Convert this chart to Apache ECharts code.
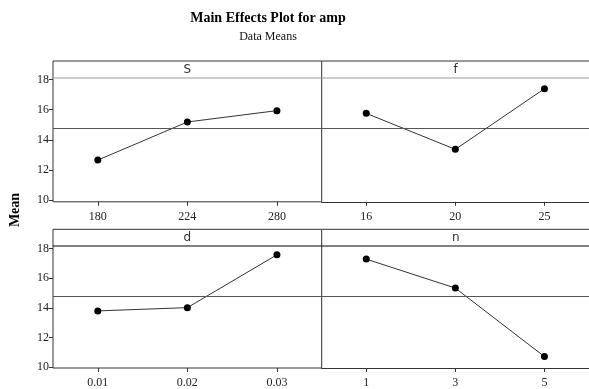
<!DOCTYPE html>
<html><head><meta charset="utf-8">
<script src="https://cdn.jsdelivr.net/npm/echarts@6/dist/echarts.min.js"></script>
<style>html,body{margin:0;padding:0;background:#fff}#c{width:589px;height:389px}</style>
</head><body><div id="c"></div>
<script>
const factorNames = ['S', 'f', 'd', 'n'];
const catsS = ['180', '224', '280'];
const valsS = [12.66, 15.18, 15.93];
const catsF = ['16', '20', '25'];
const valsF = [15.75, 13.37, 17.38];
const catsD = ['0.01', '0.02', '0.03'];
const valsD = [13.79, 14.01, 17.58];
const catsN = ['1', '3', '5'];
const valsN = [17.29, 15.33, 10.70];
const yTicks = [10, 12, 14, 16, 18];
const grandMean = 14.75;

const cats = [catsS, catsF, catsD, catsN];
const vals = [valsS, valsF, valsD, valsN];

const serif = '"Liberation Serif", "Times New Roman", serif';
const sans = '"DejaVu Sans", Tahoma, sans-serif';

// layout
const colX = [53, 321.7];
const colW = [268.7, 268];
const rows = [
  { hTop: 61, top: 78, bottom: 201.8, min: 9.9, max: 18.09, hdrLine: '#9a9a9a' },
  { hTop: 229.3, top: 246, bottom: 371, min: 9.93, max: 18.2, hdrLine: '#000' }
];

const grids = [], xAxes = [], yAxes = [], series = [], graphics = [];
for (let i = 0; i < 4; i++) {
  const r = rows[Math.floor(i / 2)], c = i % 2;
  // extend the value range upward so the header strip sits inside the frame
  const perPx = (r.max - r.min) / (r.bottom - r.top);
  const axisMax = r.min + (r.bottom - r.hTop) * perPx;
  grids.push({ left: colX[c], top: r.hTop, width: colW[c], height: r.bottom - r.hTop,
    show: c === 0, borderColor: '#333', borderWidth: 1, backgroundColor: 'transparent' });
  xAxes.push({ type: 'category', gridIndex: i, data: cats[i], boundaryGap: true,
    axisLine: { show: c === 1, lineStyle: { color: '#333', width: 1 } },
    axisTick: { show: true, alignWithLabel: true, length: 4, lineStyle: { color: '#333' } },
    axisLabel: { margin: 9, fontFamily: serif, fontSize: 12, color: '#222' },
    splitLine: { show: false } });
  yAxes.push({ type: 'value', gridIndex: i, min: r.min, max: axisMax,
    show: c === 0,
    axisLine: { show: false },
    axisTick: { show: true, length: 4, customValues: yTicks, lineStyle: { color: '#333' } },
    axisLabel: { margin: 4, customValues: yTicks, fontFamily: serif, fontSize: 12, color: '#222' },
    splitLine: { show: false } });
  series.push({ type: 'line', xAxisIndex: i, yAxisIndex: i, data: vals[i],
    symbol: 'circle', symbolSize: 7,
    itemStyle: { color: '#000' },
    lineStyle: { color: '#333', width: 1 },
    animation: false, silent: true,
    markLine: { silent: true, symbol: 'none', label: { show: false },
      lineStyle: { color: '#555', width: 1, type: 'solid' },
      data: [{ yAxis: grandMean }], animation: false } });
  if (c === 1) {
    // open-ended right panel: top edge only (left edge shared with left panel)
    graphics.push({ type: 'line', shape: { x1: colX[c], y1: r.hTop, x2: 589, y2: r.hTop },
      style: { stroke: '#333', lineWidth: 1 }, z: 11 });
  }
  graphics.push({ type: 'line', shape: { x1: colX[c], y1: r.top, x2: colX[c] + colW[c], y2: r.top },
    style: { stroke: r.hdrLine, lineWidth: 1 }, z: 11 });
  graphics.push({ type: 'text', x: colX[c] + colW[c] / 2, y: (r.hTop + r.top) / 2,
    style: { text: factorNames[i], font: '12px ' + sans, fill: '#333', textAlign: 'center', textVerticalAlign: 'middle' }, z: 12 });
}

graphics.push({ type: 'text', x: 268, y: 18,
  style: { text: 'Main Effects Plot for amp', font: 'bold 14px ' + serif, fill: '#000', textAlign: 'center', textVerticalAlign: 'middle' } });
graphics.push({ type: 'text', x: 268, y: 37,
  style: { text: 'Data Means', font: '12px ' + serif, fill: '#111', textAlign: 'center', textVerticalAlign: 'middle' } });
graphics.push({ type: 'text', x: 15, y: 210, rotation: Math.PI / 2,
  style: { text: 'Mean', font: 'bold 14px ' + serif, fill: '#000', textAlign: 'center', textVerticalAlign: 'middle' } });

const chart = echarts.init(document.getElementById('c'), null, { renderer: 'canvas' });
chart.setOption({
  animation: false,
  backgroundColor: '#fff',
  grid: grids, xAxis: xAxes, yAxis: yAxes, series: series,
  graphic: graphics
});
</script></body></html>
